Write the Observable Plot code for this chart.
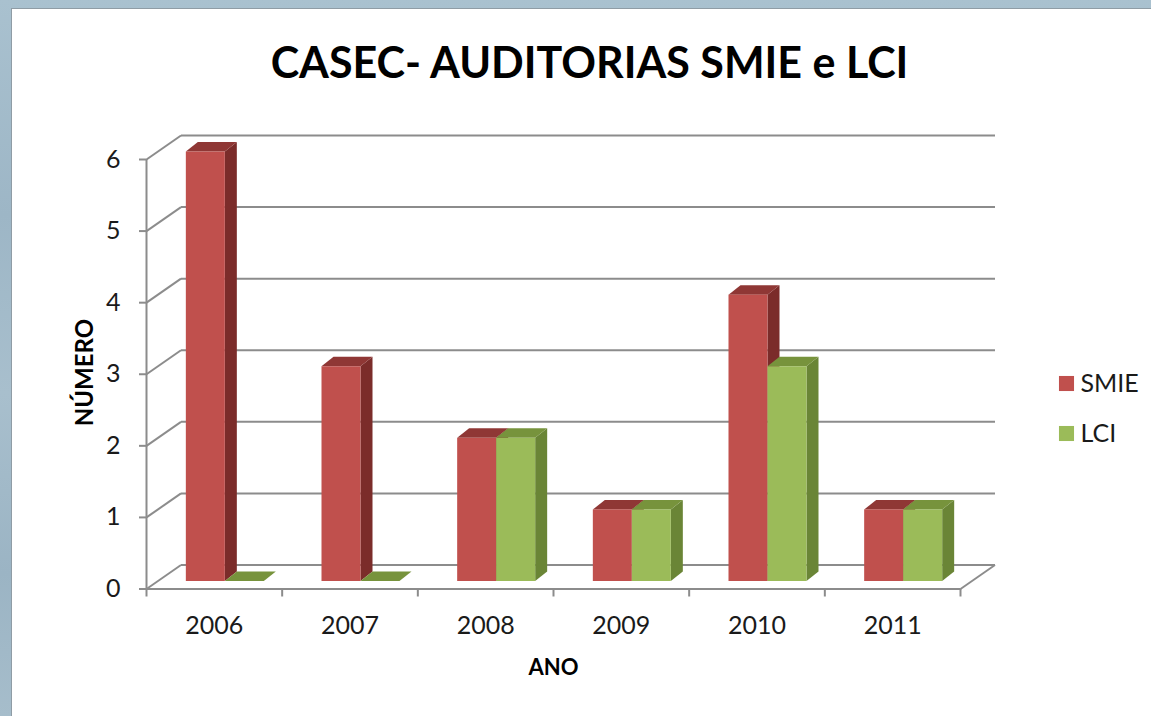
<!DOCTYPE html>
<html>
<head>
<meta charset="utf-8">
<script src="https://cdn.jsdelivr.net/npm/d3@7"></script>
<script src="https://cdn.jsdelivr.net/npm/@observablehq/plot@0.6"></script>
<style>
  html, body { margin: 0; padding: 0; width: 1151px; height: 716px; overflow: hidden; }
  body {
    position: relative;
    background-color: #a4bccb;
    background-image: linear-gradient(180deg, #a9c1cf 0%, #9db6c6 30%, #a8bfcd 55%, #9bb4c4 80%, #a6bdcb 100%);
  }
  #panel { position: absolute; left: 11px; top: 8px; right: 0; bottom: 0; background: #ffffff; border-left: 1.5px solid #8f9ca5; border-top: 1.5px solid #8f9ca5; }
  #chart { position: absolute; left: 0; top: 0; }
</style>
</head>
<body>
<div id="panel"></div>
<div id="chart"></div>
<script>
// ---- data ----
const years = ["2006", "2007", "2008", "2009", "2010", "2011"];
const seriesNames = ["SMIE", "LCI"];
const smie = [6, 3, 2, 1, 4, 1];
const lci = [0, 0, 2, 1, 3, 1];
const yTicks = [0, 1, 2, 3, 4, 5, 6];
const titleText = "CASEC- AUDITORIAS SMIE e LCI";
const yTitle = "NÚMERO";
const xTitle = "ANO";

// ---- styles / layout constants ----
const W = 1151, H = 716;
const X0 = 146, X1 = 960;      // front frame left/right (px)
const Y0 = 588.5, YT = 159;    // front value 0 and value 6 (px)
const ux = (X1 - X0) / years.length;
const uy = (Y0 - YT) / 6;
const wallD = [34.5, 24];      // depth of the 3D box (px right, px up)
const barShift = [11, 7.5];    // bar front face offset from front plane
const barD = [12, 9.5];        // bar depth
const barW = 39;               // bar width (px)
const gridColor = "#8c8c8c";
const textColor = "#1a1a1a";
const colors = {
  SMIE: {front: "#c0504d", side: "#7b2c2a", top: "#8f3735"},
  LCI:  {front: "#9bbb59", side: "#6a8536", top: "#77933c"}
};

// convert pixel offsets to data units
const wdx = wallD[0] / ux, wdy = wallD[1] / uy;
const bsx = barShift[0] / ux, bsy = barShift[1] / uy;
const bdx = barD[0] / ux, bdy = barD[1] / uy;
const bw = barW / ux;

// build bar table
const bars = [];
years.forEach((yr, i) => {
  [smie[i], lci[i]].forEach((v, s) => {
    const name = seriesNames[s];
    const xl = i + 0.5 + bsx + (s === 0 ? -bw : 0);
    bars.push({id: yr + name, name, v, xl, xr: xl + bw, yb: bsy, yt: v + bsy,
               front: colors[name].front, side: colors[name].side, top: colors[name].top});
  });
});
const sideRows = bars.flatMap(b => [
  {id: b.id, fill: b.side, x: b.xr, y1: b.yb, y2: b.yt},
  {id: b.id, fill: b.side, x: b.xr + bdx, y1: b.yb + bdy, y2: b.yt + bdy}
]);
const topRows = bars.flatMap(b => [
  {id: b.id, fill: b.top, y: b.yt, x1: b.xl, x2: b.xr},
  {id: b.id, fill: b.top, y: b.yt + bdy, x1: b.xl + bdx, x2: b.xr + bdx}
]);

const frameCx = (X0 + X1) / 2, frameCy = (Y0 + YT) / 2;
const legendY = [383, 433];

const chart = Plot.plot({
  width: W,
  height: H,
  marginLeft: X0,
  marginRight: W - X1,
  marginTop: YT,
  marginBottom: H - Y0,
  style: {background: "transparent", fontFamily: "Lato, 'Open Sans', sans-serif", overflow: "visible", color: textColor},
  x: {type: "linear", domain: [0, years.length], axis: null},
  y: {type: "linear", domain: [0, 6], axis: null},
  color: {type: "identity"},
  marks: [
    // back wall gridlines
    Plot.link(yTicks, {x1: wdx, x2: years.length + wdx, y1: v => v + wdy, y2: v => v + wdy, stroke: gridColor, strokeWidth: 2}),
    // left wall diagonals
    Plot.link(yTicks, {x1: 0, y1: v => v, x2: wdx, y2: v => v + wdy, stroke: gridColor, strokeWidth: 2}),
    // floor front edge and right diagonal
    Plot.link([0], {x1: 0, x2: years.length, y1: 0, y2: 0, stroke: gridColor, strokeWidth: 2}),
    Plot.link([0], {x1: years.length, y1: 0, x2: years.length + wdx, y2: wdy, stroke: gridColor, strokeWidth: 2}),
    // front vertical axis line
    Plot.ruleX([0], {y1: 0, y2: 6, stroke: gridColor, strokeWidth: 2}),
    // y axis ticks & labels
    Plot.axisY({ticks: yTicks, tickSize: 7, tickPadding: 19, fontSize: 25, stroke: gridColor, strokeWidth: 2, fill: textColor,
                tickFormat: d => String(d), label: null}),
    // x axis boundary ticks
    Plot.axisX({ticks: d3.range(years.length + 1), tickSize: 8, tickFormat: () => "", stroke: gridColor, strokeWidth: 2, label: null}),
    // x axis category labels
    Plot.axisX({ticks: d3.range(years.length).map(i => i + 0.5), tickSize: 0, tickPadding: 27, fontSize: 25, fill: textColor,
                tickFormat: v => years[Math.floor(v)], label: null}),
    // bars: sides, tops, fronts
    Plot.areaY(sideRows, {x: "x", y1: "y1", y2: "y2", z: "id", fill: "fill"}),
    Plot.areaX(topRows, {y: "y", x1: "x1", x2: "x2", z: "id", fill: "fill"}),
    Plot.rect(bars, {x1: "xl", x2: "xr", y1: "yb", y2: "yt", fill: "front"}),
    // titles
    Plot.text([titleText], {frameAnchor: "top", lineAnchor: "middle", textAnchor: "middle", dx: 589 - frameCx, dy: 63.7 - YT, fontSize: 43, fontWeight: "bold", fill: "#000"}),
    Plot.text([xTitle], {frameAnchor: "bottom", lineAnchor: "middle", textAnchor: "middle", dy: 667.5 - Y0, fontSize: 22, fontWeight: "bold", fill: "#000"}),
    Plot.text([yTitle], {frameAnchor: "left", lineAnchor: "middle", textAnchor: "middle", rotate: -90, dx: 85 - X0, dy: 372 - frameCy, fontSize: 24, fontWeight: "bold", fill: "#000"})
  ]
});
document.getElementById("chart").appendChild(chart);

// legend (pixel-positioned overlay)
const g = Plot.plot({
  width: W, height: H, margin: 0,
  style: {background: "transparent", fontFamily: "Lato, 'Open Sans', sans-serif", overflow: "visible"},
  x: {type: "identity", axis: null}, y: {type: "identity", axis: null},
  marks: [
    Plot.dot(seriesNames, {x: 1066, y: (d) => legendY[seriesNames.indexOf(d)], symbol: "square", r: 8.5, fill: d => colors[d].front}),
    Plot.text(seriesNames, {x: 1080, y: (d) => legendY[seriesNames.indexOf(d)], text: d => d, textAnchor: "start", fontSize: 25, fill: textColor})
  ]
});
g.style.position = "absolute"; g.style.left = "0px"; g.style.top = "0px";
document.getElementById("chart").appendChild(g);
</script>
</body>
</html>
